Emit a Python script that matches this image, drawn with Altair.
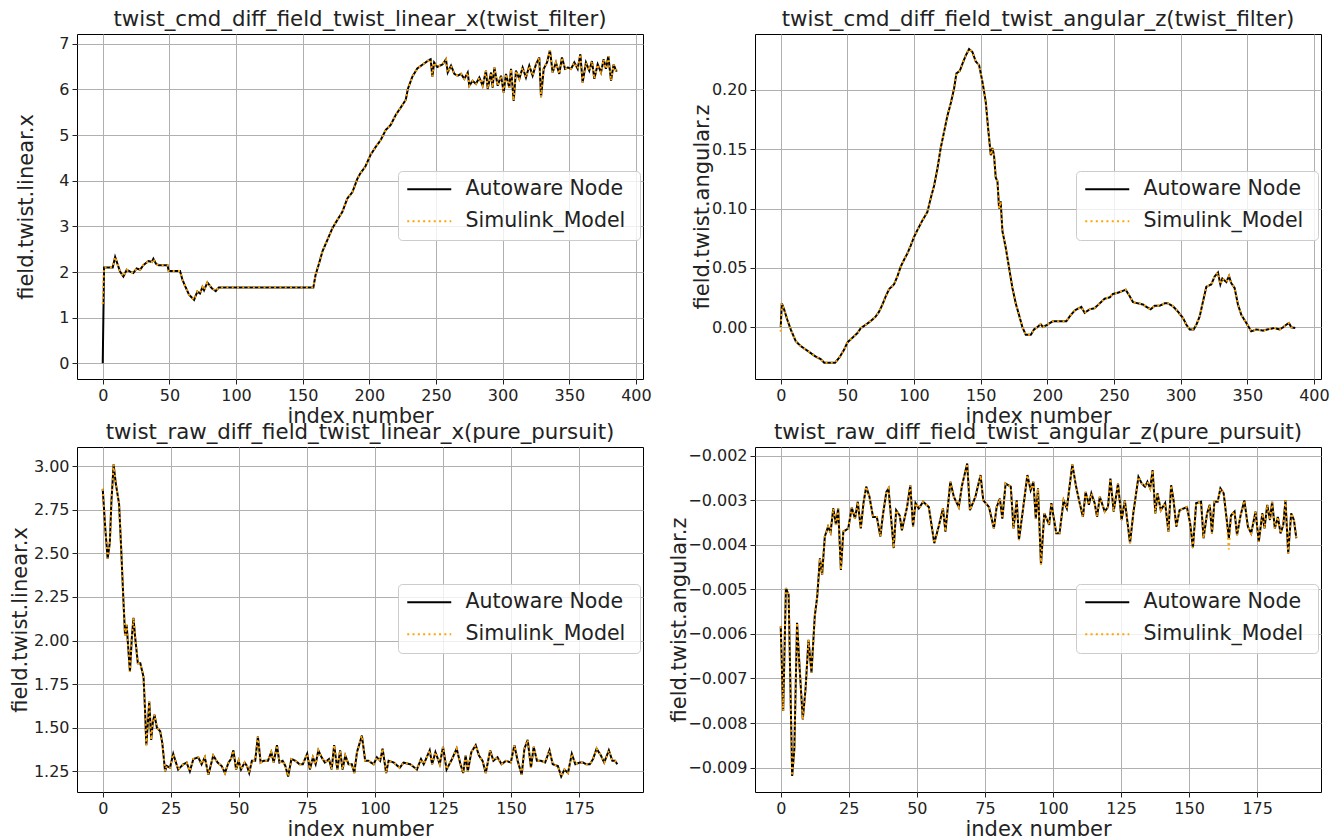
import altair as alt
import pandas as pd

FONT = "DejaVu Sans"
SERIES = ["Autoware Node", "Simulink_Model"]
COLORS = ["#000000", "#ffa500"]
DASHES = [[1, 0], [2, 3.3]]

# ---------------- top-left: linear x (twist_filter) ----------------
tl_x = [0, 1, 7.5, 9.3, 13, 15.5, 18, 20.5, 23, 25.5, 28, 30.5, 34.3, 36.8, 38, 40, 42, 48.6,
        49.5, 58, 59.8, 62.3, 64.8, 68.5, 71, 73, 74.8, 76, 78.5, 82, 84.8, 87, 158, 159.7,
        162.3, 164.8, 168.5, 172.3, 176, 179.8, 183.5, 187.3, 191, 193, 197, 201, 205, 208.5,
        212.3, 216, 219.8, 223.5, 227.3, 229, 232.3, 236, 239.8, 243.6, 246, 247.3, 248.6, 251,
        255, 257.5, 258.8, 261.3, 263.8, 266.3, 268.8, 271.3, 273.8, 275, 277.5, 280, 282.5,
        285, 287.5, 288.8, 291.3, 292.5, 293.8, 296.3, 298.8, 300.8, 302.5, 305, 306.3, 308.3,
        310, 312.5, 315, 317.5, 320, 322.5, 325, 327.5, 328.8, 330.8, 333.3, 335.5, 337.5, 340,
        342.5, 344.5, 346.8, 348.8, 351.3, 353.8, 356.3, 358.3, 360, 362.5, 365, 367, 368.8,
        371.3, 373.8, 375.8, 377.5, 379.3, 381.3, 383.3, 385, 386]
tl_autoware = [0.0, 2.10, 2.10, 2.33, 2.01, 1.90, 2.05, 2.01, 1.98, 2.08, 2.05, 2.15, 2.24, 2.22,
               2.29, 2.18, 2.15, 2.15, 2.02, 2.02, 1.83, 1.66, 1.50, 1.39, 1.57, 1.53, 1.67, 1.60,
               1.77, 1.64, 1.58, 1.66, 1.66, 1.94, 2.19, 2.45, 2.70, 2.96, 3.14, 3.32, 3.61, 3.75,
               4.04, 4.15, 4.31, 4.57, 4.75, 4.89, 5.11, 5.22, 5.44, 5.60, 5.77, 6.02, 6.28, 6.46,
               6.54, 6.62, 6.66, 6.28, 6.59, 6.49, 6.55, 6.66, 6.37, 6.52, 6.34, 6.30, 6.34, 6.23,
               6.37, 6.08, 6.19, 6.12, 6.26, 6.08, 6.41, 6.01, 6.37, 6.04, 6.48, 6.08, 6.30, 5.93,
               6.34, 6.04, 6.45, 5.75, 6.41, 6.23, 6.48, 6.26, 6.52, 6.30, 6.55, 6.70, 5.83, 6.45,
               6.59, 6.86, 6.37, 6.59, 6.34, 6.70, 6.45, 6.48, 6.45, 6.59, 6.45, 6.77, 6.15, 6.59,
               6.41, 6.62, 6.23, 6.55, 6.37, 6.66, 6.45, 6.73, 6.19, 6.55, 6.41, 6.41]
tl_simulink = list(tl_autoware)
tl_simulink[0] = 1.30  # Simulink starts at ~1.3 instead of 0

# ---------------- top-right: angular z (twist_filter) ----------------
tr_x = [0, 0.8, 2.5, 5, 7.5, 11.3, 15, 18.8, 22.6, 26.3, 30, 32.6, 36.3, 40.8, 43.8, 47.6, 50,
        53.8, 57.6, 60, 63.8, 67.5, 71.3, 73.8, 76.3, 78.8, 81.3, 85, 87.6, 90, 92.6, 95, 97.6,
        100, 102.6, 106.3, 110, 112.6, 115, 117.6, 120, 122.6, 125, 127.6, 130, 131.8, 134.3,
        136.3, 138.8, 141.3, 143.8, 146.3, 148.8, 151.3, 153.8, 155.8, 157.6, 158.8, 160, 161.3,
        162.6, 163.8, 165, 166.3, 168.8, 171.3, 173.8, 176.3, 178.8, 181.3, 183.8, 187.6, 190,
        192.6, 195, 196.8, 200, 204.2, 209.2, 214.3, 216.8, 220.5, 225.5, 228, 231.8, 235.5,
        239.3, 243, 246.8, 249.3, 253, 255.5, 258.8, 261.8, 264.3, 268, 271.8, 274.3, 277.5,
        280.5, 284.3, 288, 290.5, 294.3, 298, 301.8, 304.3, 306.8, 309.8, 311.8, 314.3, 316.8,
        319.3, 323, 325.5, 328, 329.8, 331.3, 334.3, 336.3, 338, 340.5, 343, 345.5, 349.3, 353,
        356.8, 361.8, 366.8, 370.5, 374.3, 376.8, 379.3, 381.3, 383, 386]
tr_autoware = [0.000, 0.020, 0.015, 0.006, -0.002, -0.012, -0.016, -0.019, -0.022, -0.025,
               -0.027, -0.030, -0.030, -0.030, -0.026, -0.019, -0.013, -0.009, -0.005, -0.001,
               0.002, 0.005, 0.009, 0.013, 0.019, 0.026, 0.032, 0.036, 0.043, 0.051, 0.057, 0.062,
               0.069, 0.076, 0.082, 0.090, 0.097, 0.109, 0.119, 0.134, 0.151, 0.165, 0.178, 0.189,
               0.201, 0.214, 0.216, 0.222, 0.229, 0.2345, 0.232, 0.224, 0.221, 0.207, 0.190, 0.165,
               0.145, 0.151, 0.145, 0.126, 0.123, 0.100, 0.106, 0.081, 0.067, 0.050, 0.033, 0.020,
               0.010, 0.000, -0.0065, -0.0065, -0.002, 0.000, 0.0025, 0.000, 0.002, 0.005, 0.005,
               0.005, 0.009, 0.014, 0.017, 0.012, 0.015, 0.016, 0.020, 0.024, 0.025, 0.028, 0.029,
               0.030, 0.0315, 0.026, 0.021, 0.020, 0.019, 0.017, 0.015, 0.018, 0.018, 0.020, 0.020,
               0.0175, 0.013, 0.0076, 0.002, -0.002, -0.002, 0.002, 0.009, 0.0217, 0.034, 0.036,
               0.0427, 0.046, 0.036, 0.041, 0.038, 0.043, 0.037, 0.033, 0.019, 0.0104, 0.0034,
               -0.0036, -0.002, -0.003, -0.0016, -0.0008, -0.002, -0.0002, 0.002, 0.0034, -0.0002,
               -0.0008]
tr_simulink = list(tr_autoware)
tr_simulink[0] = -0.004

# ---------------- bottom-left: linear x (pure_pursuit) ----------------
bl_x = [0, 0.9, 1.8, 2.6, 3.2, 4.0, 4.8, 6.0, 6.8, 7.6, 8.2, 8.8, 9.4, 10.0, 10.7, 11.3, 11.9,
        12.9, 13.8, 15.0, 15.6, 16.0, 16.6, 17.1, 17.8, 18.4, 19.0, 19.9, 21.1, 21.9, 22.9, 23.5,
        24.7, 25.9, 27.7, 29.6, 30.8, 32, 33.3, 35.1, 36.3, 37.5, 38.8, 40.6, 42.2, 43.7, 44.9,
        46.2, 47.1, 48, 49, 49.9, 50.8, 52.1, 53, 53.8, 54.8, 56, 57, 58, 59.1, 60.7, 61.9, 62.8,
        64, 64.9, 66.1, 67.1, 68.1, 69.3, 70.8, 72.3, 73.5, 75.1, 76.1, 77.2, 78.2, 79.2, 80.4,
        81.6, 83.1, 84.1, 85, 86.2, 87.2, 88.1, 89.1, 90.3, 91.5, 92.4, 93.4, 95.2, 96.4, 97.6,
        99.5, 100.7, 101.9, 102.8, 104.1, 105, 106.9, 109.1, 110.5, 113, 115.4, 116.9, 117.9,
        120.1, 121, 122.2, 123.8, 125, 126.3, 128.3, 130, 131.4, 132.4, 133.3, 134.1, 135.4,
        137, 138.2, 139.5, 140.7, 142.3, 143.5, 145, 146.5, 148.1, 149.9, 151.2, 152.4, 153.9,
        154.9, 156.1, 157.3, 158.3, 159.5, 161, 162.5, 164.1, 165.3, 167.2, 168.4, 169.6, 170.9,
        172.3, 173.6, 175.2, 176.4, 177.6, 178.9, 180.1, 181.4, 183, 184.2, 185.9, 187.2, 188.2,
        189]
bl_autoware = [2.87, 2.65, 2.47, 2.56, 2.80, 3.01, 2.90, 2.785, 2.52, 2.23, 2.03, 2.09, 1.95,
               1.82, 2.02, 2.13, 2.02, 1.87, 1.87, 1.79, 1.58, 1.40, 1.53, 1.65, 1.43, 1.53,
               1.575, 1.50, 1.48, 1.41, 1.25, 1.28, 1.27, 1.35, 1.26, 1.29, 1.30, 1.25, 1.32,
               1.33, 1.29, 1.33, 1.23, 1.34, 1.30, 1.28, 1.24, 1.30, 1.32, 1.37, 1.26, 1.31, 1.26,
               1.30, 1.28, 1.24, 1.31, 1.31, 1.45, 1.30, 1.31, 1.31, 1.36, 1.30, 1.40, 1.30, 1.31,
               1.28, 1.22, 1.32, 1.31, 1.29, 1.29, 1.35, 1.26, 1.33, 1.29, 1.37, 1.33, 1.30, 1.32,
               1.26, 1.40, 1.26, 1.37, 1.26, 1.34, 1.29, 1.29, 1.24, 1.36, 1.455, 1.31, 1.31,
               1.29, 1.33, 1.31, 1.38, 1.24, 1.31, 1.30, 1.27, 1.30, 1.29, 1.26, 1.32, 1.29, 1.37,
               1.29, 1.36, 1.29, 1.39, 1.26, 1.32, 1.38, 1.29, 1.24, 1.34, 1.25, 1.36, 1.40, 1.34,
               1.31, 1.24, 1.37, 1.31, 1.33, 1.29, 1.31, 1.30, 1.40, 1.31, 1.23, 1.38, 1.43, 1.27,
               1.39, 1.31, 1.31, 1.30, 1.37, 1.29, 1.28, 1.22, 1.26, 1.24, 1.35, 1.29, 1.30, 1.30,
               1.29, 1.29, 1.32, 1.38, 1.34, 1.30, 1.37, 1.31, 1.31, 1.29]
bl_simulink = list(bl_autoware)

# ---------------- bottom-right: angular z (pure_pursuit) ----------------
br_x = [0, 0.9, 1.9, 2.9, 4.2, 5.0, 6.0, 6.9, 8.1, 9.1, 10.2, 11.3, 12.5, 13.4, 14.4, 15.2, 16.2,
        17.4, 18.3, 19.3, 20.3, 21.1, 22.1, 23.0, 24.8, 26.1, 27.3, 28.3, 29.4, 30.4, 31.4,
        32.6, 33.9, 35.3, 36.6, 37.5, 38.8, 39.6, 40.5, 41.5, 42.4, 43.7, 44.5, 46.4, 47.6,
        48.6, 49.5, 50.7, 52.3, 54.4, 56.4, 58, 59.6, 60.5, 62.3, 63.6, 65.4, 66.6, 68.5, 69.5,
        71.5, 73.4, 74.4, 76.5, 78.3, 79.3, 80.5, 81.4, 82.6, 84.5, 85.5, 86.7, 87.5, 88.8,
        90.6, 91.8, 92.8, 93.7, 94.5, 95.6, 96.8, 98.6, 99.4, 101.2, 102.4, 103.9, 105.1, 107.1,
        108.5, 109.8, 111, 112, 113.2, 114.1, 115.3, 116.2, 117.2, 119, 120.2, 121.1, 122.3,
        123.9, 125.2, 126.4, 128.3, 129.5, 131.4, 132.6, 133.8, 134.7, 135.7, 136.6, 137.6,
        138.4, 139.6, 141.2, 142.4, 143.4, 144.3, 145.3, 146.5, 149.2, 150.4, 151.4, 152.6,
        154.4, 155.3, 156.6, 157.6, 158.4, 159.3, 160.5, 161.5, 162.7, 163.7, 164.6, 165.4,
        166.7, 167.6, 168.9, 170.3, 171.6, 172.8, 174.4, 175.6, 176.9, 177.7, 178.7, 179.7,
        180.5, 181.5, 182.6, 183.6, 184.6, 185.4, 186.4, 187.5, 188.5, 189.4]
br_autoware = [-0.00583, -0.00773, -0.00497, -0.00512, -0.00919, -0.00859, -0.00575, -0.00672,
               -0.00792, -0.00725, -0.00613, -0.00687, -0.0056, -0.00516, -0.0043, -0.00467,
               -0.00381, -0.00359, -0.00372, -0.00318, -0.00355, -0.00318, -0.00456, -0.0037,
               -0.00363, -0.00316, -0.00341, -0.00303, -0.00363, -0.00306, -0.00269, -0.00292,
               -0.00337, -0.00337, -0.00381, -0.00334, -0.00281, -0.00273, -0.00337, -0.00407,
               -0.00322, -0.00334, -0.00367, -0.00315, -0.00266, -0.00359, -0.00306, -0.00318,
               -0.00303, -0.00315, -0.00396, -0.00359, -0.00318, -0.0037, -0.00258, -0.00292,
               -0.00315, -0.00266, -0.00217, -0.00322, -0.00292, -0.00243, -0.003, -0.00315,
               -0.00363, -0.00315, -0.00296, -0.00341, -0.00262, -0.00269, -0.00363, -0.003,
               -0.00389, -0.00329, -0.00243, -0.00277, -0.00258, -0.00341, -0.00273, -0.00445,
               -0.00329, -0.00355, -0.00306, -0.00374, -0.00374, -0.003, -0.00318, -0.00219,
               -0.00269, -0.00306, -0.00337, -0.00281, -0.0031, -0.00284, -0.00306, -0.00337,
               -0.00292, -0.00325, -0.00315, -0.00251, -0.00325, -0.00262, -0.00344, -0.003,
               -0.00396, -0.00329, -0.00247, -0.00262, -0.00269, -0.00258, -0.00273, -0.00232,
               -0.00329, -0.00284, -0.00322, -0.00306, -0.0037, -0.00266, -0.003, -0.00359,
               -0.00322, -0.00315, -0.00352, -0.00407, -0.00306, -0.00303, -0.00385, -0.00329,
               -0.0031, -0.00374, -0.00303, -0.00303, -0.00273, -0.00284, -0.00337, -0.00385,
               -0.00334, -0.00325, -0.00378, -0.00334, -0.003, -0.00359, -0.00374, -0.00325,
               -0.00393, -0.00329, -0.00363, -0.0031, -0.00344, -0.00303, -0.00363, -0.00337,
               -0.00374, -0.00355, -0.003, -0.00419, -0.00329, -0.00344, -0.00385]
br_simulink = list(br_autoware)
br_simulink[br_x.index(164.6)] = -0.0041  # Simulink dips slightly lower here

PANEL_W = 566
PANEL_H = 345


def make_df(xs, aw, sim):
    rows = []
    for name, ys in zip(SERIES, [aw, sim]):
        for x, y in zip(xs, ys):
            rows.append({"index": x, "value": y, "series": name})
    return pd.DataFrame(rows)


def legend():
    return alt.Legend(
        title=None, orient="none", legendX=321, legendY=137,
        symbolType="M-2.75,0H2.75", symbolSize=256, symbolStrokeWidth=2,
        symbolOffset=13, labelOffset=26,
        labelFont=FONT, labelFontSize=20.5, labelColor="#222222", labelLimit=400,
        labelExpr="datum.label + '\u00a0\u200b'",
        rowPadding=11, padding=8,
        fillColor="rgba(255,255,255,0.8)", strokeColor="#cccccc", cornerRadius=4,
    )


def panel(df, title, ytitle, xdom, ydom, xticks, yticks, yfmt, ytitle_pad=1):
    return alt.Chart(df).mark_line(strokeWidth=2).encode(
        x=alt.X("index:Q", scale=alt.Scale(domain=xdom, nice=False, zero=False),
                axis=alt.Axis(values=xticks, title="index number", format="d")),
        y=alt.Y("value:Q", scale=alt.Scale(domain=ydom, nice=False, zero=False),
                axis=alt.Axis(values=yticks, title=ytitle, format=yfmt,
                              titlePadding=ytitle_pad)),
        color=alt.Color("series:N", scale=alt.Scale(domain=SERIES, range=COLORS), legend=legend()),
        strokeDash=alt.StrokeDash("series:N", scale=alt.Scale(domain=SERIES, range=DASHES),
                                  legend=legend()),
    ).properties(width=PANEL_W, height=PANEL_H, title=title)


tl = panel(make_df(tl_x, tl_autoware, tl_simulink),
           "twist_cmd_diff_field_twist_linear_x(twist_filter)", "field.twist.linear.x",
           [-19.3, 405.3], [-0.3435, 7.2135], list(range(0, 401, 50)), list(range(0, 8)), "d",
           ytitle_pad=22)
tr = panel(make_df(tr_x, tr_autoware, tr_simulink),
           "twist_cmd_diff_field_twist_angular_z(twist_filter)", "field.twist.angular.z",
           [-19.3, 405.3], [-0.0438, 0.2472], list(range(0, 401, 50)),
           [0.0, 0.05, 0.10, 0.15, 0.20], ".2f", ytitle_pad=-1)
bl = panel(make_df(bl_x, bl_autoware, bl_simulink),
           "twist_raw_diff_field_twist_linear_x(pure_pursuit)", "field.twist.linear.x",
           [-9.45, 198.45], [1.131, 3.110], list(range(0, 176, 25)),
           [1.25, 1.5, 1.75, 2.0, 2.25, 2.5, 2.75, 3.0], ".2f", ytitle_pad=3)
br = panel(make_df(br_x, br_autoware, br_simulink),
           "twist_raw_diff_field_twist_angular_z(pure_pursuit)", "field.twist.angular.z",
           [-9.45, 198.45], [-0.00955, -0.0018], list(range(0, 176, 25)),
           [-0.009, -0.008, -0.007, -0.006, -0.005, -0.004, -0.003, -0.002], ".3f",
           ytitle_pad=-2)

chart = alt.concat(
    tl, tr, bl, br, columns=2, spacing={"row": 68, "column": 112}, bounds="flush"
).resolve_scale(
    x="independent", y="independent", color="independent", strokeDash="independent"
).resolve_legend(
    color="independent", strokeDash="independent"
).properties(
    padding={"left": 0, "top": 0, "right": 5, "bottom": 0}, background="white"
).configure_view(
    stroke="#000000", strokeWidth=1
).configure_axis(
    grid=True, gridColor="#b0b0b0", gridWidth=1, domain=False,
    tickColor="#222222", tickSize=5, tickWidth=1,
    labelFont=FONT, labelFontSize=16, labelColor="#222222", labelPadding=3,
    titleFont=FONT, titleFontSize=21, titleColor="#222222", titleFontWeight="normal",
).configure_axisX(
    titlePadding=2,
).configure_title(
    font=FONT, fontSize=21.3, fontWeight="normal", color="#222222", offset=4,
    baseline="alphabetic", anchor="middle",
)

chart.save("out.html", embed_options={"renderer": "svg", "actions": False})
